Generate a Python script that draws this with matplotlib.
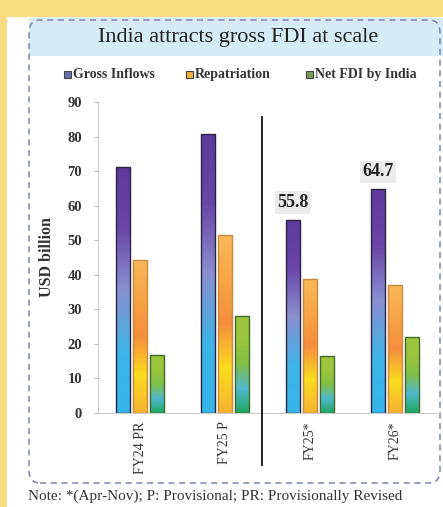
import matplotlib.pyplot as plt
import numpy as np
from matplotlib.colors import LinearSegmentedColormap
from matplotlib.patches import Rectangle, FancyBboxPatch

years = ["FY24 PR", "FY25 P", "FY25*", "FY26*"]
gross_inflows = [71.2, 80.6, 55.8, 64.7]
repatriation = [44.4, 51.4, 38.7, 37.0]
net_fdi_india = [16.7, 28.0, 16.4, 22.1]
series_names = ["Gross Inflows", "Repatriation", "Net FDI by India"]
labelled = {2: 55.8, 3: 64.7}

# gradient colours, bottom -> top
grad_cols = [
    ["#35b6ea", "#3fb4e8", "#8a8fd0", "#6a45a8", "#5e3a9c"],
    ["#f6b233", "#f8dc1c", "#f58d3e", "#f7a546", "#f9b85a"],
    ["#1ea65e", "#4fb8cf", "#7fbf47", "#9cc43c", "#9dc53e"],
]
edge_cols = ["#2a2440", "#c98a40", "#3f6a2a"]
legend_cols = ["#6a70b0", "#f4b040", "#7a9a5a"]

W, H = 443, 507
fig = plt.figure(figsize=(W / 100, H / 100), dpi=100)
fig.patch.set_facecolor("#f8dc82")

def fx(px):
    return px / W

def fy(py):
    return 1 - py / H

# white panel, title band and dashed frame
fig.patches.append(Rectangle((fx(7), 0), 1, fy(17), transform=fig.transFigure,
                             facecolor="white", edgecolor="none", zorder=-3))
fig.patches.append(Rectangle((fx(29), fy(56)), 1, fy(18) - fy(56), transform=fig.transFigure,
                             facecolor="#d5ebf6", edgecolor="none", zorder=-2))
fig.patches.append(FancyBboxPatch((fx(29), fy(483)), fx(440) - fx(29), fy(20) - fy(483),
                                  boxstyle="round,pad=0,rounding_size=0.025",
                                  transform=fig.transFigure, facecolor="none",
                                  edgecolor="#7c86ad", linestyle=(0, (4, 3)), linewidth=1.1,
                                  zorder=-1))

fig.text(fx(238), fy(38), "India attracts gross FDI at scale", ha="center", va="center",
         fontsize=16, family="Liberation Serif", color="#222222")

ax = fig.add_axes([fx(97.5), fy(413), fx(437.5) - fx(97.5), fy(102) - fy(413)])
ax.set_zorder(2)
ax.set_facecolor("none")

x = np.arange(len(years))
bw = 0.165
offs = [-0.2, 0.0, 0.2]
data = [gross_inflows, repatriation, net_fdi_india]

for s, vals in enumerate(data):
    cmap = LinearSegmentedColormap.from_list("g%d" % s, grad_cols[s])
    grad = np.linspace(0, 1, 256).reshape(-1, 1)
    bars = ax.bar(x + offs[s], vals, width=bw, facecolor="none",
                  edgecolor=edge_cols[s], linewidth=1.0, zorder=3)
    for b in bars:
        x0, w, h = b.get_x(), b.get_width(), b.get_height()
        im = ax.imshow(grad, cmap=cmap, origin="lower", aspect="auto",
                       extent=(x0, x0 + w, 0, h), zorder=2)
        im.set_clip_path(b)

for i, v in labelled.items():
    ax.text(x[i] + offs[0], v + 2.6, "%.1f" % v, ha="center", va="bottom",
            fontsize=13, fontweight="bold", family="Liberation Serif", color="#222222",
            bbox=dict(boxstyle="square,pad=0.15", facecolor="#ebebeb", edgecolor="none"))

# divider between full-year and Apr-Nov figures
ax.plot([1.44, 1.44], [85.8, -15], color="#111111", linewidth=1.3, clip_on=False, zorder=4)

ax.set_xlim(-0.5, 3.5)
ax.set_ylim(0, 90)
ax.set_yticks(range(0, 91, 10))
ax.set_xticks(x)
ax.set_xticklabels(years, rotation=90, family="Liberation Serif", fontsize=10, color="#333333")
ax.tick_params(axis="x", length=0, pad=6)
ax.tick_params(axis="y", length=3, color="#bbbbbb", labelsize=10.5, labelcolor="#333333", pad=8)
for lab in ax.get_yticklabels():
    lab.set_family("Liberation Serif")
    lab.set_fontweight("bold")
for side in ["top", "right"]:
    ax.spines[side].set_visible(False)
ax.spines["left"].set_color("#cccccc")
ax.spines["bottom"].set_color("#cccccc")
ax.set_ylabel("USD billion", family="Liberation Serif", fontweight="bold", fontsize=11.5,
              color="#333333", labelpad=9)

# legend row
leg_x = [64, 186, 306]
for i, name in enumerate(series_names):
    fig.patches.append(Rectangle((fx(leg_x[i]), fy(78)), 7 / W, 7 / H, transform=fig.transFigure,
                                 facecolor=legend_cols[i], edgecolor="#444444", linewidth=0.8))
    fig.text(fx(leg_x[i] + 9), fy(74.5), name, ha="left", va="center", fontsize=10,
             fontweight="bold", family="Liberation Serif", color="#333333")

fig.text(fx(28), fy(490), "Note: *(Apr-Nov); P: Provisional; PR: Provisionally Revised",
         ha="left", va="top", fontsize=11, family="Liberation Serif", color="#333333")

fig.savefig("out.png", dpi=100, facecolor=fig.get_facecolor())
